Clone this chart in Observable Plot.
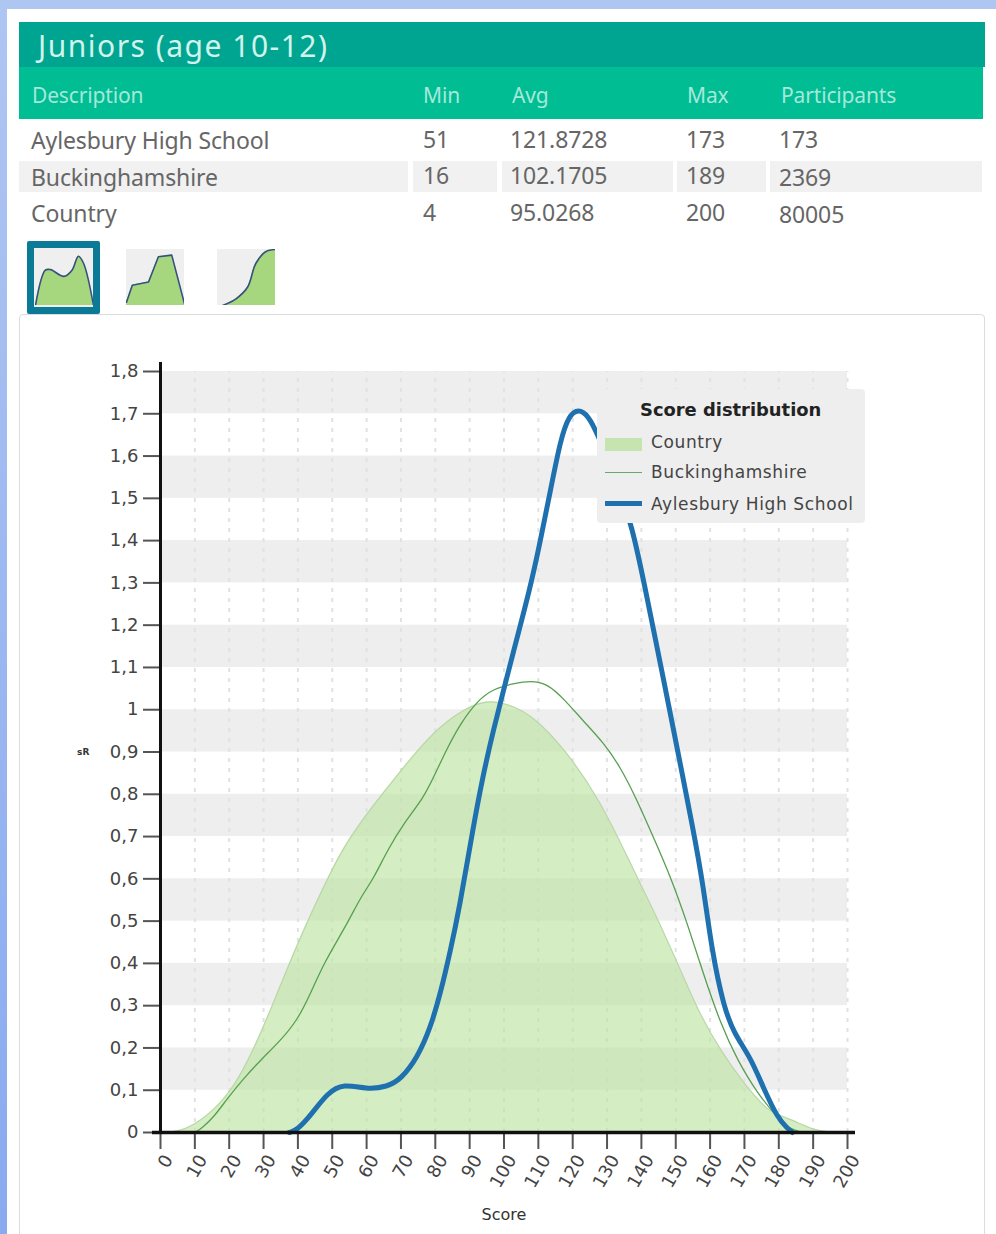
<!DOCTYPE html>
<html>
<head>
<meta charset="utf-8">
<script src="https://cdn.jsdelivr.net/npm/d3@7"></script>
<script src="https://cdn.jsdelivr.net/npm/@observablehq/plot@0.6"></script>
<style>
html,body{margin:0;padding:0;background:#fff;}
#page{position:relative;width:996px;height:1234px;overflow:hidden;background:#fff;font-family:"Noto Sans",sans-serif;}
#topstrip{position:absolute;left:0;top:0;width:996px;height:9px;background:#aec6f2;}
#leftstrip{position:absolute;left:0;top:0;width:7px;height:1234px;background:linear-gradient(#aec6f2,#8aaaf0);}
#titlebar{position:absolute;left:19px;top:22px;width:966px;height:45px;background:#00a591;color:#d2f3ec;font-size:30px;line-height:47px;letter-spacing:1.5px;}
#titlebar span{position:absolute;left:19px;white-space:nowrap;}
#headbar{position:absolute;left:19px;top:67px;width:964px;height:52px;background:#00bd93;}
.hd{position:absolute;top:80px;font-size:21px;line-height:30px;color:#a5e8da;white-space:nowrap;letter-spacing:-.15px;}
.cell{position:absolute;font-size:23px;line-height:30px;color:#666;white-space:nowrap;letter-spacing:-.12px;}
.shade{position:absolute;top:161px;height:31px;background:#f1f1f1;}
#card{position:absolute;left:19px;top:314px;width:966px;height:960px;border:1px solid #dcdcdc;border-radius:4px;box-sizing:border-box;}
.icon{position:absolute;top:249px;width:58px;height:56px;}
#sel{position:absolute;left:27px;top:241px;width:73px;height:73px;box-sizing:border-box;border:7px solid #0a7a96;border-radius:2px;background:#efefef;}
#chart{position:absolute;left:0;top:340px;}
#legend{position:absolute;left:597px;top:389px;width:268px;height:134px;background:#eeeeee;border-radius:4px;font-family:"DejaVu Sans",sans-serif;color:#333;}
#legend .t{position:absolute;left:43px;top:10px;font-size:17.9px;font-weight:bold;color:#222;white-space:nowrap;}
#legend .l{position:absolute;left:54px;font-size:17px;letter-spacing:.62px;white-space:nowrap;color:#444;}
#legend .s{position:absolute;left:8px;width:37px;}
</style>
</head>
<body>
<div id="page">
  <div id="topstrip"></div><div id="leftstrip"></div>
  <div id="titlebar"><span id="title"></span></div>
  <div id="headbar"></div>
  <div id="table"></div>
  <div id="card"></div>
  <div id="sel"></div>
  <div id="icons"></div>
  <div id="chart"></div>
  <div id="legend"></div>
</div>
<script>
// ---------- text ----------
const titleText = "Juniors (age 10-12)";
const columns = ["Description", "Min", "Avg", "Max", "Participants"];
const rowNames = ["Aylesbury High School", "Buckinghamshire", "Country"];
const rowMin = ["51", "16", "4"];
const rowAvg = ["121.8728", "102.1705", "95.0268"];
const rowMax = ["173", "189", "200"];
const rowParticipants = ["173", "2369", "80005"];
const legendTitle = "Score distribution";

// ---------- axes ----------
const xTicks = d3.range(0, 201, 10);
const yTicks = [0,0.1,0.2,0.3,0.4,0.5,0.6,0.7,0.8,0.9,1,1.1,1.2,1.3,1.4,1.5,1.6,1.7,1.8];
const yTickLabels = ["0","0,1","0,2","0,3","0,4","0,5","0,6","0,7","0,8","0,9","1","1,1","1,2","1,3","1,4","1,5","1,6","1,7","1,8"];
const bandLow = [0.1,0.3,0.5,0.7,0.9,1.1,1.3,1.5,1.7];
const bandHigh = [0.2,0.4,0.6,0.8,1.0,1.2,1.4,1.6,1.8];

// ---------- series ----------
const countryScore = [0,5,9.7,15.5,21.3,27,32,37,42.8,48.6,53.3,60,70,79.5,89,95,101,108.7,118.4,128,136,141.7,145.6,152.3,157,163,169.8,176.6,180.5,184.4,190,195,200];
const countryValue = [0,0.002,0.017,0.052,0.106,0.194,0.289,0.39,0.5,0.6,0.675,0.754,0.856,0.95,1.005,1.022,1.015,0.985,0.9,0.785,0.65,0.555,0.49,0.367,0.28,0.194,0.116,0.052,0.04,0.028,0.006,0,0];
const bucksScore = [10,12,15.5,19.4,24.2,29,35,39.8,43.7,47.5,54.4,58.2,62,66,70.8,76.6,79.5,83.5,87.3,92.3,97,102.8,107.7,112.6,117.4,123,129,134,138.8,143.5,148.5,153.4,158,163,168,173.8,179.6,182.5,187];
const bucksValue = [0,0.01,0.036,0.08,0.128,0.17,0.218,0.265,0.329,0.4,0.494,0.556,0.6,0.667,0.731,0.792,0.84,0.91,0.967,1.022,1.05,1.062,1.069,1.062,1.026,0.974,0.922,0.863,0.785,0.698,0.605,0.494,0.376,0.258,0.17,0.092,0.036,0.01,0];
const schoolScore = [37.5,39.8,43.7,48.6,53.3,60,66,70,74.8,78.6,81.5,84.4,87,91,94,97,100,102.5,107.7,110.6,113.5,116.4,118.8,121.7,124.6,127.2,132,137.4,141.7,146.5,150.5,155,158,160.5,164,167,171.8,175.5,179.6,182.5,184];
const schoolValue = [0,0.006,0.04,0.094,0.116,0.102,0.108,0.126,0.177,0.248,0.329,0.43,0.53,0.721,0.849,0.955,1.05,1.13,1.29,1.4,1.518,1.637,1.695,1.712,1.695,1.653,1.555,1.436,1.262,1.07,0.905,0.72,0.585,0.43,0.296,0.234,0.177,0.106,0.035,0.01,0];

// ---------- small thumbnails ----------
const icon1X = [0,0.17,0.26,0.49,0.63,0.74,0.83,1];
const icon1Y = [0,0.63,0.64,0.52,0.63,0.88,0.75,0];
const icon2X = [0,0.1,0.38,0.55,0.78,1];
const icon2Y = [0.06,0.36,0.42,0.87,0.9,0.03];
const icon3X = [0.09,0.32,0.52,0.66,0.83,1];
const icon3Y = [0,0.12,0.33,0.75,0.96,1];

// ---------- colours ----------
const countryFill = "#bde3a1";
const countryEdge = "#b8d8a6";
const bucksStroke = "#55a050";
const schoolStroke = "#1f70ae";

// ---------- html table ----------
document.getElementById("title").textContent = titleText;
const table = document.getElementById("table");
const colX = [32, 423, 512, 687, 781];
const cellX = [31, 423, 510, 686, 779];
const rowY = [[125, 162, 198],[124, 160, 197],[124, 160, 197],[124, 160, 197],[124, 162, 199]];
[[19,389],[413,84],[502,171],[677,89],[770,212]].forEach(([l,w]) => {
  const d = document.createElement("div"); d.className = "shade";
  d.style.left = l + "px"; d.style.width = w + "px"; table.appendChild(d);
});
columns.forEach((c,i) => {
  const d = document.createElement("div"); d.className = "hd";
  d.textContent = c; d.style.left = colX[i] + "px"; table.appendChild(d);
});
[rowNames,rowMin,rowAvg,rowMax,rowParticipants].forEach((col,i) => {
  col.forEach((v,j) => {
    const d = document.createElement("div"); d.className = "cell";
    d.textContent = v; d.style.left = cellX[i] + "px"; d.style.top = rowY[i][j] + "px";
    table.appendChild(d);
  });
});

// ---------- thumbnails ----------
const icons = document.getElementById("icons");
[[icon1X,icon1Y,35],[icon2X,icon2Y,126],[icon3X,icon3Y,217]].forEach(([xs,ys,left],k) => {
  const ir = xs.map((x,i) => ({x, y: ys[i]}));
  const c = k === 1 ? "linear" : "catmull-rom";
  const svg = Plot.plot({
    width: 58, height: 56, margin: 0, axis: null,
    x: {domain: [0,1]}, y: {domain: [0,1]},
    style: {background: "#efefef", overflow: "hidden"},
    marks: [
      Plot.areaY(ir, {x: "x", y: "y", fill: "#a6d67e", curve: c}),
      Plot.lineY(ir, {x: "x", y: "y", stroke: "#35527f", strokeWidth: 1.6, curve: c})
    ]
  });
  svg.classList.add("icon");
  svg.style.left = left + "px";
  svg.style.position = "absolute";
  icons.appendChild(svg);
});

// ---------- chart ----------
const country = countryScore.map((x,i) => ({x, y: countryValue[i]}));
const bucks = bucksScore.map((x,i) => ({x, y: bucksValue[i]}));
const school = schoolScore.map((x,i) => ({x, y: schoolValue[i]}));
const bands = bandLow.map((v,i) => ({y1: v, y2: bandHigh[i]}));
const yLabel = new Map(yTicks.map((t,i) => [t, yTickLabels[i]]));

const chart = Plot.plot({
  width: 996, height: 894,
  marginLeft: 160, marginRight: 149, marginTop: 22, marginBottom: 102,
  x: {domain: [0,200]},
  y: {domain: [0,1.8213]},
  style: {fontFamily: "'DejaVu Sans',sans-serif", fontSize: "18px", color: "#444", background: "transparent", overflow: "visible"},
  marks: [
    Plot.rectY(bands, {x1: 0, x2: 200, y1: "y1", y2: "y2", fill: "#eeeeee"}),
    Plot.ruleX(xTicks.slice(1), {y1: 0, y2: 1.8, stroke: "#e2e2e2", strokeWidth: 2, strokeDasharray: "4,6"}),
    Plot.areaY(country, {x: "x", y: "y", fill: countryFill, fillOpacity: 0.65, curve: "basis"}),
    Plot.lineY(country, {x: "x", y: "y", stroke: countryEdge, strokeWidth: 1.2, curve: "basis"}),
    Plot.lineY(bucks, {x: "x", y: "y", stroke: bucksStroke, strokeWidth: 1.3, curve: "basis"}),
    Plot.lineY(school, {x: "x", y: "y", stroke: schoolStroke, strokeWidth: 5, curve: "basis"}),
    Plot.axisY({ticks: yTicks, tickFormat: d => yLabel.get(d), tickSize: 17, tickPadding: 5, label: null, strokeWidth: 2, stroke: "#555", fill: "#444", letterSpacing: "1.5px"}),
    Plot.axisX({ticks: xTicks, tickSize: 17, text: null, label: null, strokeWidth: 2, stroke: "#555"}),
    Plot.axisX({ticks: xTicks, tickSize: 0, tickPadding: 24, tickRotate: -60, dx: 8, label: null, fill: "#444", letterSpacing: "1px"}),
    Plot.ruleX([0], {y1: -0.005, y2: 1.8213, stroke: "#111", strokeWidth: 3}),
    Plot.ruleY([0], {x1: -2.33, x2: 202.33, stroke: "#111", strokeWidth: 3.5}),
    Plot.text(["Score"], {x: [100], y: [-0.195], fontSize: 16, fill: "#333"}),
    Plot.text(["sR"], {x: [-22.5], y: [0.9], fontSize: 9, fontWeight: "bold", fill: "#333"})
  ]
});
document.getElementById("chart").appendChild(chart);

// ---------- legend ----------
const legend = document.getElementById("legend");
legend.innerHTML =
  `<div class="t">${legendTitle}</div>` +
  `<div class="s" style="top:49px;height:13px;background:#c6e4b0"></div><div class="l" style="top:43px">${rowNames[2]}</div>` +
  `<div class="s" style="top:83px;height:1px;background:#6aa86a"></div><div class="l" style="top:73px">${rowNames[1]}</div>` +
  `<div class="s" style="top:112px;height:5px;background:${schoolStroke}"></div><div class="l" style="top:105px">${rowNames[0]}</div>`;
</script>
</body>
</html>
